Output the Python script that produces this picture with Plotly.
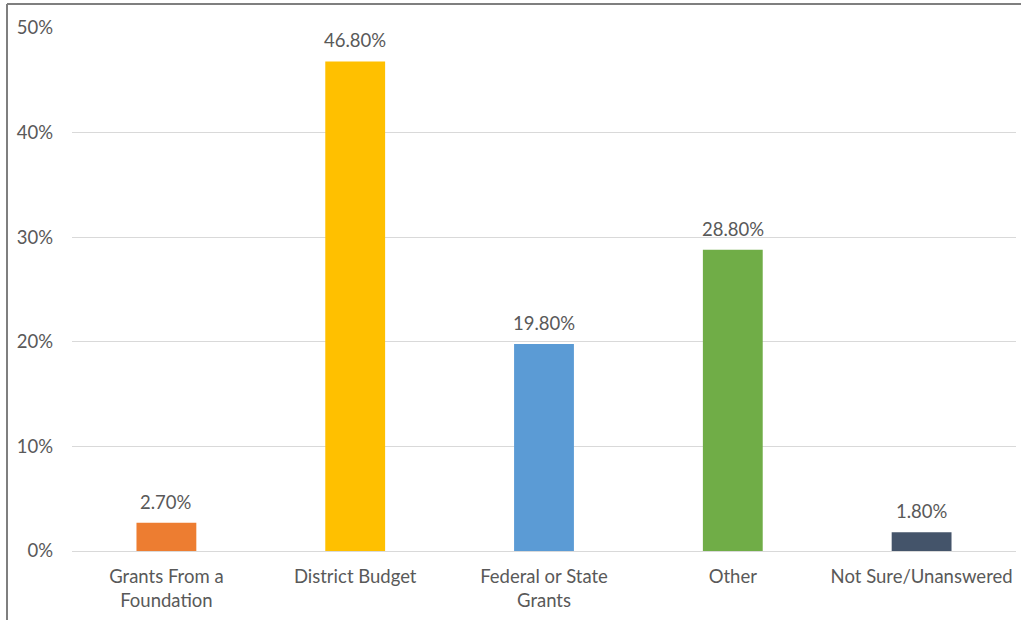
import plotly.graph_objects as go

categories = ["Grants From a<br>Foundation", "District Budget", "Federal or State<br>Grants", "Other", "Not Sure/Unanswered"]
values = [2.7, 46.8, 19.8, 28.8, 1.8]
colors = ["#ED7D31", "#FFC000", "#5B9BD5", "#70AD47", "#44546A"]
y_ticks = [0, 10, 20, 30, 40, 50]
y_tick_labels = [f"{t}%" for t in y_ticks]

W, H = 1021, 620
ML, MR, MT, MB = 72, 5, 28, 69
pw, ph = W - ML - MR, H - MT - MB

font = dict(family="Lato, Carlito, Calibri, sans-serif", size=18.5, color="#595959")

fig = go.Figure(go.Bar(
    x=categories, y=values, marker=dict(color=colors, line=dict(width=0)),
    hoverinfo="skip",
))

for c, v in zip(categories, values):
    fig.add_annotation(x=c, y=v, text=f"{v:.2f}%", showarrow=False,
                       yanchor="bottom", yshift=8, font=font)

# frame around the chart area (left and top edges)
fx0 = (7 - ML) / pw
fy1 = 1 + (MT - 4) / ph
fig.add_shape(type="line", xref="paper", yref="paper", x0=fx0, x1=fx0, y0=-MB / ph - 0.01, y1=fy1,
              line=dict(color="#7f7f7f", width=2))
fig.add_shape(type="line", xref="paper", yref="paper", x0=fx0, x1=1 + (MR + 5) / pw, y0=fy1, y1=fy1,
              line=dict(color="#7f7f7f", width=2))

fig.update_layout(
    width=W, height=H, margin=dict(l=ML, r=MR, t=MT, b=MB),
    paper_bgcolor="white", plot_bgcolor="white", showlegend=False,
    bargap=0.683, font=font,
    xaxis=dict(showgrid=False, showline=False, ticks="", tickfont=font,
               ticklabelstandoff=12),
    yaxis=dict(range=[0, 50], tickvals=y_ticks, ticktext=y_tick_labels, showgrid=True,
               gridcolor="#d9d9d9", gridwidth=1.3, zeroline=True, zerolinecolor="#d9d9d9",
               zerolinewidth=1.3, showline=False, ticks="", tickfont=font,
               ticklabelstandoff=18),
)

fig.write_html("out.html")
